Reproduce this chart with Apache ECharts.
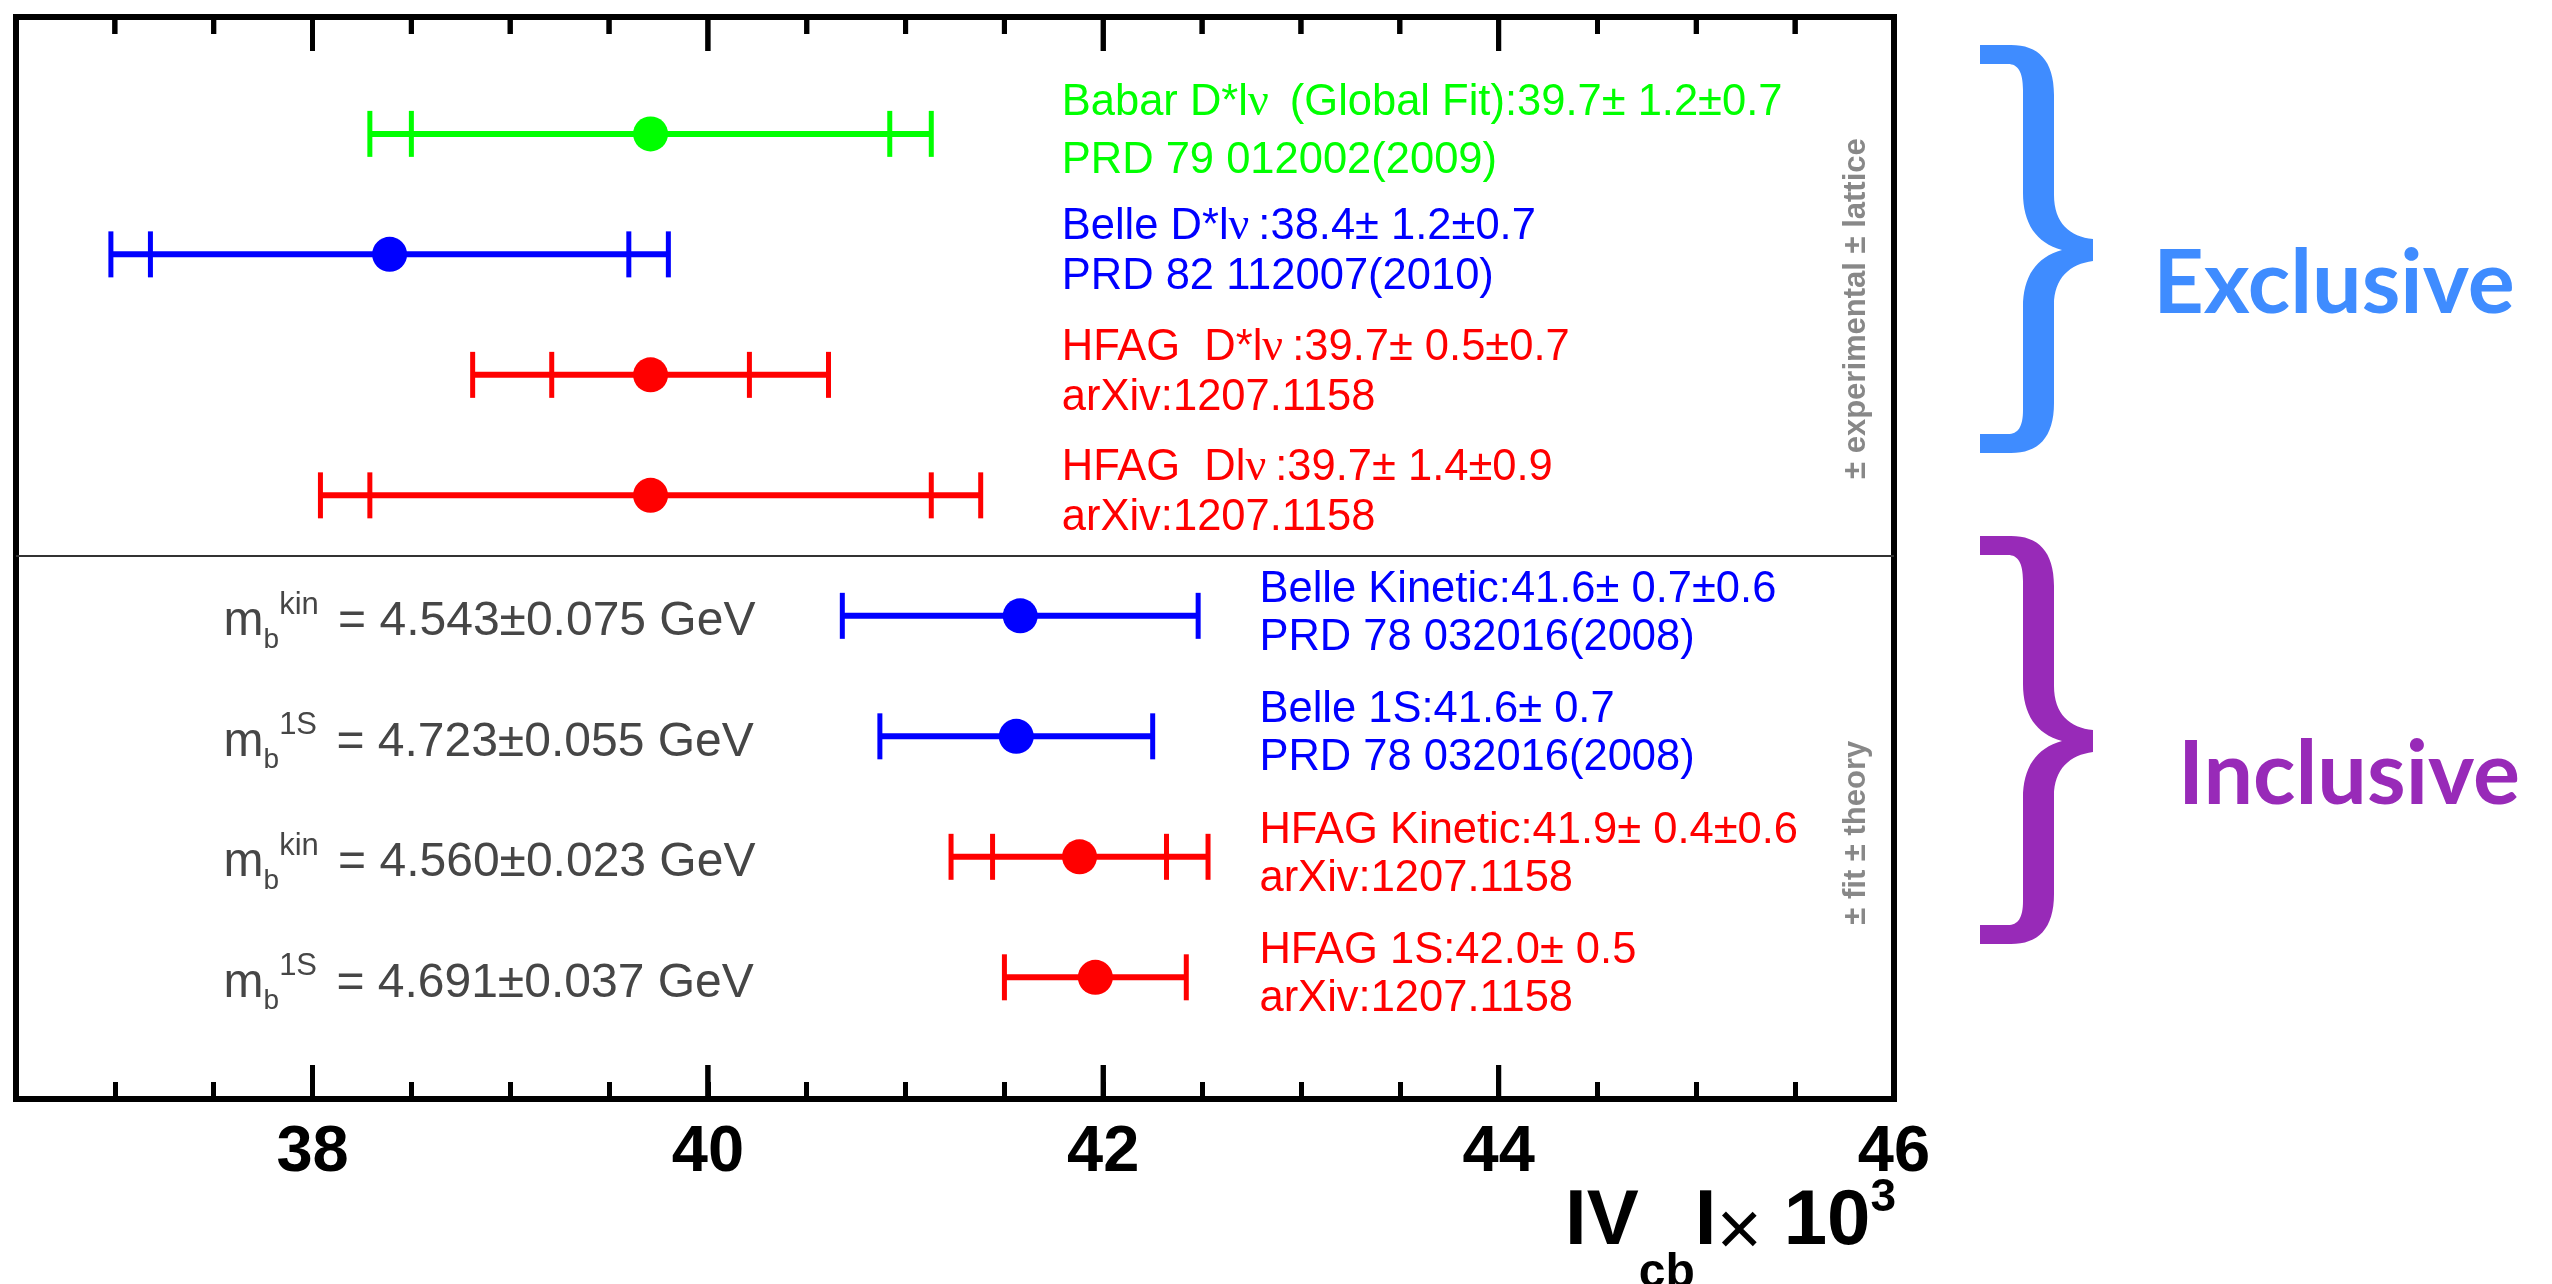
<!DOCTYPE html>
<html>
<head>
<meta charset="utf-8">
<title>|Vcb| summary</title>
<script src="https://cdn.jsdelivr.net/npm/echarts@6/dist/echarts.min.js"></script>
<style>
  html, body { margin: 0; padding: 0; background: #fff; }
  #chart { width: 2552px; height: 1284px; }
</style>
</head>
<body>
<div id="chart"></div>
<script>
// measurements, top row = 1
const rows = [1, 2, 3, 4, 5, 6, 7, 8];
const centers = [39.71, 38.39, 39.71, 39.71, 41.58, 41.56, 41.88, 41.96];
const innerErr = [1.21, 1.21, 0.50, 1.42, 0, 0, 0.44, 0]; // 0 = no inner cap
const totalErr = [1.42, 1.41, 0.90, 1.67, 0.90, 0.69, 0.65, 0.46];
const labelLine1 = [
  'Babar D*l{nu|ν} (Global Fit):39.7± 1.2±0.7',
  'Belle D*l{nu|ν}:38.4± 1.2±0.7',
  'HFAG  D*l{nu|ν}:39.7± 0.5±0.7',
  'HFAG  Dl{nu|ν}:39.7± 1.4±0.9',
  'Belle Kinetic:41.6± 0.7±0.6',
  'Belle 1S:41.6± 0.7',
  'HFAG Kinetic:41.9± 0.4±0.6',
  'HFAG 1S:42.0± 0.5'
];
const labelLine2 = [
  'PRD 79 012002(2009)',
  'PRD 82 112007(2010)',
  'arXiv:1207.1158',
  'arXiv:1207.1158',
  'PRD 78 032016(2008)',
  'PRD 78 032016(2008)',
  'arXiv:1207.1158',
  'arXiv:1207.1158'
];
// b-quark mass inputs for the inclusive rows
const massRows = [5, 6, 7, 8];
const massScheme = ['kin', '1S', 'kin', '1S'];
const massValue = ['4.543±0.075', '4.723±0.055', '4.560±0.023', '4.691±0.037'];
const tickLabels = [38, 40, 42, 44, 46];
const groupNames = ['Exclusive', 'Inclusive'];
const errorNotes = ['± experimental ± lattice', '± fit ± theory'];

// styles / layout
const rowColors = ['#00ff00', '#0000ff', '#ff0000', '#ff0000', '#0000ff', '#0000ff', '#ff0000', '#ff0000'];
const groupColors = ['#3f8cff', '#982ab8'];
const X_MIN = 36.5, X_MAX = 46, TICK_STEP = 0.5;
const Y_MIN = 0.03, Y_MAX = 9.01, SPLIT_Y = 4.5;
const LABEL_X_EXCL = 41.79, LABEL_X_INCL = 42.79, MASS_X = 37.55;
const NOTE_X = 45.81, NOTE_Y = [2.45, 6.80];
const CAP_HALF = 23, MARKER_R = 17.5;
const MAJOR_LEN = 34, MINOR_LEN = 17;
const FONT = '"Liberation Sans", Arial, sans-serif';

// every tick position along the frame (top side mirrors the bottom one)
const tickValues = [];
for (let v = X_MIN + TICK_STEP; v <= X_MAX + 1e-9; v += TICK_STEP) tickValues.push(+v.toFixed(2));

const chart = echarts.init(document.getElementById('chart'));

function tickLine(x, y1, y2) {
  return { type: 'line', shape: { x1: x, y1: y1, x2: x, y2: y2 }, style: { stroke: '#000', lineWidth: 5 } };
}

// top ticks (major + minor) and the long bottom ticks, from any value->pixel mapper
function frameTicks(toPx) {
  const out = [];
  tickValues.forEach(function (v) {
    const major = tickLabels.indexOf(v) >= 0;
    const t = toPx([v, Y_MIN]);
    const b = toPx([v, Y_MAX]);
    out.push(tickLine(t[0], t[1], t[1] + (major ? MAJOR_LEN : MINOR_LEN)));
    if (major) out.push(tickLine(b[0], b[1], b[1] - MAJOR_LEN));
  });
  return out;
}

function renderBar(params, api) {
  const i = params.dataIndex;
  const c = api.value(0), row = api.value(1), inner = api.value(2), total = api.value(3);
  const color = rowColors[i];
  const mid = api.coord([c, row]);
  const lo = api.coord([c - total, row]);
  const hi = api.coord([c + total, row]);
  const capXs = [lo[0], hi[0]];
  if (inner > 0) {
    capXs.push(api.coord([c - inner, row])[0], api.coord([c + inner, row])[0]);
  }
  const children = i === 0 ? frameTicks(api.coord) : [];
  children.push({
    type: 'line',
    shape: { x1: lo[0], y1: mid[1], x2: hi[0], y2: mid[1] },
    style: { stroke: color, lineWidth: 6 }
  });
  capXs.forEach(function (x) {
    children.push({
      type: 'line',
      shape: { x1: x, y1: mid[1] - CAP_HALF, x2: x, y2: mid[1] + CAP_HALF },
      style: { stroke: color, lineWidth: 5 }
    });
  });
  children.push({
    type: 'circle',
    shape: { cx: mid[0], cy: mid[1], r: MARKER_R },
    style: { fill: color }
  });
  return { type: 'group', children: children };
}

function renderLabel(params, api) {
  const i = params.dataIndex;
  const p = api.coord([api.value(0), api.value(1)]);
  const lh = i === 0 ? 58 : (i < 4 ? 50 : 48);
  return {
    type: 'text',
    x: p[0],
    y: p[1] - 2,
    style: {
      text: labelLine1[i] + '\n' + labelLine2[i],
      fill: rowColors[i],
      fontFamily: FONT,
      fontSize: 43.5,
      lineHeight: lh,
      align: 'left',
      verticalAlign: 'middle',
      rich: {
        nu: { fontFamily: '"Liberation Serif", serif', fontSize: 46, padding: [0, 9, 0, 0] }
      }
    }
  };
}

function renderMass(params, api) {
  const i = params.dataIndex;
  const p = api.coord([api.value(0), api.value(1)]);
  return {
    type: 'text',
    x: p[0],
    y: p[1] + 6,
    style: {
      text: 'm{sub|b}{sup|' + massScheme[i] + '} = ' + massValue[i] + ' GeV',
      fill: '#464646',
      fontFamily: FONT,
      fontSize: 48,
      lineHeight: 64,
      align: 'left',
      verticalAlign: 'middle',
      rich: {
        sub: { fontFamily: FONT, fontSize: 28, lineHeight: 38, verticalAlign: 'bottom' },
        sup: { fontFamily: FONT, fontSize: 31, lineHeight: 46, verticalAlign: 'top', padding: [0, 6, 0, 0] }
      }
    }
  };
}

function renderNote(params, api) {
  const i = params.dataIndex;
  const p = api.coord([api.value(0), api.value(1)]);
  return {
    type: 'text',
    x: p[0],
    y: p[1],
    rotation: Math.PI / 2,
    style: {
      text: errorNotes[i], fill: '#888', font: 'bold 31px ' + FONT,
      align: 'center', verticalAlign: 'middle'
    }
  };
}

// brace outline, local coords (113 x 408)
const bracePath = 'M0 0 L31 0 C58 0 74 15 74 50 L74 150 C74 178 90 192 113 194 L113 216 ' +
  'C90 219 74 233 74 260 L74 358 C74 393 58 408 31 408 L0 408 L0 389 L28 389 ' +
  'C38 389 43 382 43 365 L43 262 C43 232 56 212 82 205 C56 198 43 178 43 148 ' +
  'L43 45 C43 27 38 19 28 19 L0 19 Z';
const BRACE_TOPS = [45, 536];
const NAME_POS = [[2334, 285], [2349, 776]];

function renderBrace(params) {
  const i = params.dataIndex;
  return {
    type: 'group',
    children: [
      {
        type: 'path',
        shape: { pathData: bracePath, x: 1980, y: BRACE_TOPS[i], width: 113, height: 408, layout: 'cover' },
        style: { fill: groupColors[i] }
      },
      {
        type: 'text',
        x: NAME_POS[i][0],
        y: NAME_POS[i][1],
        style: {
          text: groupNames[i], fill: groupColors[i],
          font: 'bold 88px Lato, "Open Sans", sans-serif',
          align: 'center', verticalAlign: 'middle'
        }
      }
    ]
  };
}

const axisBase = {
  type: 'value',
  min: X_MIN,
  max: X_MAX,
  axisLine: { show: false },
  splitLine: { show: false }
};

const option = {
  animation: false,
  backgroundColor: '#fff',
  grid: {
    left: 16, right: 658, top: 17, bottom: 185,
    show: true, borderColor: '#000', borderWidth: 6,
    outerBoundsMode: 'none'
  },
  xAxis: [
    Object.assign({}, axisBase, {
      position: 'bottom',
      interval: TICK_STEP,
      axisTick: { show: true, inside: true, length: MINOR_LEN, lineStyle: { color: '#000', width: 5 } },
      axisLabel: {
        customValues: tickLabels,
        fontFamily: FONT, fontWeight: 'bold', fontSize: 65, color: '#000', margin: 22,
        showMaxLabel: true, showMinLabel: true
      }
    }),
    Object.assign({}, axisBase, {
      position: 'bottom',
      axisTick: { show: false },
      axisLabel: { show: false },
      name: '{b|I}{b|V}{sub|cb}{b|I}{x|×}{b| 10}{sup|3}',
      nameLocation: 'end',
      nameGap: 2,
      nameMoveOverlap: false,
      nameTextStyle: {
        align: 'right',
        verticalAlign: 'top',
        padding: [65, 0, 0, 0],
        rich: {
          b: { fontFamily: FONT, fontWeight: 'bold', fontSize: 78, verticalAlign: 'top', padding: [19, 0, 0, 0], color: '#000' },
          sub: { fontFamily: FONT, fontWeight: 'bold', fontSize: 48, verticalAlign: 'top', padding: [86, 0, 0, 0], color: '#000' },
          sup: { fontFamily: FONT, fontWeight: 'bold', fontSize: 46, verticalAlign: 'top', padding: [11, 0, 0, 0], color: '#000' },
          x: { fontFamily: FONT, fontSize: 78, verticalAlign: 'top', padding: [30, 0, 0, 0], color: '#000' }
        }
      }
    })
  ],
  yAxis: {
    type: 'value', inverse: true, min: Y_MIN, max: Y_MAX, show: false
  },
  series: [
    {
      type: 'scatter',
      data: [],
      silent: true,
      markLine: {
        silent: true,
        symbol: 'none',
        label: { show: false },
        lineStyle: { color: '#333', width: 2, type: 'solid' },
        data: [{ yAxis: SPLIT_Y }]
      }
    },
    {
      type: 'custom',
      renderItem: renderBar,
      xAxisIndex: 0,
      data: rows.map(function (r, i) { return [centers[i], r, innerErr[i], totalErr[i]]; }),
      encode: { x: 0, y: 1 },
      z: 3
    },
    {
      type: 'custom',
      renderItem: renderLabel,
      xAxisIndex: 1,
      data: rows.map(function (r) { return [r <= 4 ? LABEL_X_EXCL : LABEL_X_INCL, r]; }),
      encode: { x: 0, y: 1 },
      z: 4
    },
    {
      type: 'custom',
      renderItem: renderMass,
      xAxisIndex: 0,
      data: massRows.map(function (r) { return [MASS_X, r]; }),
      encode: { x: 0, y: 1 },
      z: 4
    },
    {
      type: 'custom',
      renderItem: renderNote,
      xAxisIndex: 0,
      data: NOTE_Y.map(function (y) { return [NOTE_X, y]; }),
      encode: { x: 0, y: 1 },
      z: 4
    },
    {
      type: 'custom',
      coordinateSystem: 'none',
      renderItem: renderBrace,
      data: groupNames.map(function (n, i) { return [i]; }),
      silent: true
    }
  ]
};

chart.setOption(option);

// second route for the frame ticks: graphic lines placed through the axis scale
try {
  const finder = { xAxisIndex: 0, yAxisIndex: 0 };
  const ticks = frameTicks(function (pt) { return chart.convertToPixel(finder, pt); });
  ticks.forEach(function (t) { t.z = 10; });
  chart.setOption({ graphic: { elements: ticks } });
} catch (e) {
  console.error(e);
}
</script>
</body>
</html>
